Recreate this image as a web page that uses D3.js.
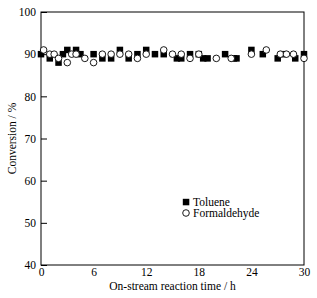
<!DOCTYPE html>
<html>
<head>
<meta charset="utf-8">
<script src="https://cdn.jsdelivr.net/npm/d3@7"></script>
<style>
  body { margin: 0; background: #fff; }
  text { font-family: "Liberation Serif", "DejaVu Serif", serif; fill: #000; }
</style>
</head>
<body>
<div id="chart"></div>
<script>
// data
const tolueneTime = [0, 1, 2, 2.5, 3, 4, 4.5, 6, 7, 8, 9, 10, 11, 12, 13, 14, 15.5, 16, 17, 18, 18.5, 19, 21, 22, 22.3, 24, 25.3, 27, 27.7, 29, 30];
const tolueneConv = [90, 89, 88, 90, 91, 91, 90, 90, 89, 89, 91, 89, 90, 91, 90, 90, 89, 89, 90, 90, 89, 89, 90, 89, 89, 91, 90, 89, 90, 89, 90];
const formTime = [0.3, 1, 1.5, 2, 3, 3.5, 4, 5, 6, 7, 8, 9, 10, 11, 12, 14, 15, 16, 17, 18, 20, 21.7, 24, 25.7, 27.3, 28, 28.8, 30];
const formConv = [91, 90, 90, 89, 88, 90, 90, 89, 88, 90, 90, 90, 90, 89, 90, 91, 90, 90, 89, 90, 89, 89, 90, 91, 90, 90, 90, 89];
const xTicks = [0, 6, 12, 18, 24, 30];
const yTicks = [40, 50, 60, 70, 80, 90, 100];
const seriesNames = ["Toluene", "Formaldehyde"];

const width = 317, height = 298;
const margin = { top: 12, right: 13, bottom: 33, left: 41 };

const svg = d3.select("#chart").append("svg")
  .attr("width", width)
  .attr("height", height);

const x = d3.scaleLinear().domain([0, 30]).range([margin.left, width - margin.right]);
const y = d3.scaleLinear().domain([40, 100]).range([height - margin.bottom, margin.top]);

// frame
svg.append("rect")
  .attr("x", x(0)).attr("y", y(100))
  .attr("width", x(30) - x(0)).attr("height", y(40) - y(100))
  .attr("fill", "none").attr("stroke", "#000").attr("stroke-width", 1);

// x axis, ticks pointing inward
const xAxis = svg.append("g").attr("transform", `translate(0,${y(40)})`);
xAxis.call(d3.axisBottom(x).tickValues(d3.range(0, 31, 2)).tickSize(-4).tickFormat(""));
xAxis.call(d3.axisBottom(x).tickValues(xTicks).tickSize(0).tickPadding(3).tickFormat(d3.format("d")));
xAxis.selectAll("text").attr("font-size", 11.5);
xAxis.selectAll(".domain").remove();

// y axis
const yAxis = svg.append("g").attr("transform", `translate(${x(0)},0)`);
yAxis.call(d3.axisLeft(y).tickValues(d3.range(40, 101, 1)).tickSize(-3).tickFormat(""));
yAxis.call(d3.axisLeft(y).tickValues(yTicks).tickSize(-6).tickPadding(5).tickFormat(d3.format("d")));
yAxis.selectAll("text").attr("font-size", 11.5);
yAxis.selectAll(".domain").remove();

// axis titles
svg.append("text")
  .attr("x", (x(0) + x(30)) / 2).attr("y", 290)
  .attr("text-anchor", "middle").attr("font-size", 11.5)
  .text("On-stream reaction time / h");
svg.append("text")
  .attr("transform", `translate(16,${(y(40) + y(100)) / 2}) rotate(-90)`)
  .attr("text-anchor", "middle").attr("font-size", 11.5)
  .text("Conversion / %");

// markers
const sq = 6.5;
svg.append("g").selectAll("rect")
  .data(tolueneTime.map((t, i) => [t, tolueneConv[i]]))
  .join("rect")
  .attr("x", d => x(d[0]) - sq / 2).attr("y", d => y(d[1]) - sq / 2)
  .attr("width", sq).attr("height", sq)
  .attr("fill", "#000");

svg.append("g").selectAll("circle")
  .data(formTime.map((t, i) => [t, formConv[i]]))
  .join("circle")
  .attr("cx", d => x(d[0])).attr("cy", d => y(d[1]))
  .attr("r", 3.3)
  .attr("fill", "#fff").attr("stroke", "#000").attr("stroke-width", 0.9);

// legend
const lg = svg.append("g").attr("transform", "translate(186,202)");
lg.append("rect").attr("x", -3.2).attr("y", -3.2).attr("width", 6.5).attr("height", 6.5).attr("fill", "#000");
lg.append("circle").attr("cx", 0).attr("cy", 11).attr("r", 3.3)
  .attr("fill", "#fff").attr("stroke", "#000").attr("stroke-width", 0.9);
lg.selectAll("text")
  .data(seriesNames)
  .join("text")
  .attr("x", 7).attr("y", (d, i) => i * 11 + 4)
  .attr("font-size", 11.5)
  .text(d => d);
</script>
</body>
</html>
